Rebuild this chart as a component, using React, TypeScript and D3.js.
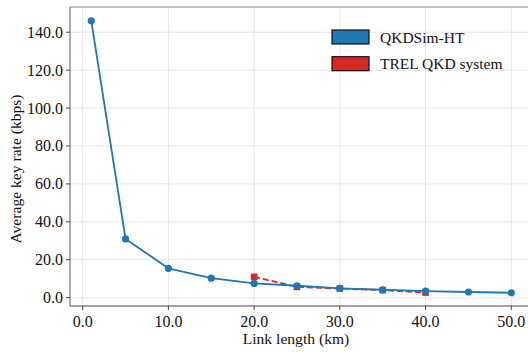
import React from "react";
import * as d3 from "d3";

const blueX = [1, 5, 10, 15, 20, 25, 30, 35, 40, 45, 50];
const blueY = [146, 31, 15.5, 10.3, 7.5, 6.3, 4.9, 4.2, 3.5, 3.0, 2.6];
const redX = [20, 25, 30, 35, 40];
const redY = [11, 5.7, 4.8, 4.0, 2.7];
const xTicks = [0, 10, 20, 30, 40, 50];
const yTicks = [0, 20, 40, 60, 80, 100, 120, 140];
const seriesNames = ["QKDSim-HT", "TREL QKD system"];
const colors = ["#1f77b4", "#d62728"];

const W = 528, H = 352;
const L = 70, B = 306, T = 7;
const FONT = "'Liberation Serif', 'Times New Roman', serif";

export default function App() {
  const x = d3.scaleLinear().domain([-1.48, 53]).range([L, L + 54.48 * 8.572]);
  const y = d3.scaleLinear().domain([-4.38, 153.3]).range([B, T]);
  const R = x(53);
  const blue = blueX.map((v, i) => [v, blueY[i]] as [number, number]);
  const red = redX.map((v, i) => [v, redY[i]] as [number, number]);
  const line = d3.line<[number, number]>().x(d => x(d[0])).y(d => y(d[1]));
  return (
    <svg width={W} height={H} style={{ position: "absolute", left: 0, top: 0, background: "#fff" }} fontFamily={FONT}>
      <rect x={0} y={0} width={W} height={H} fill="#fff" />
      {xTicks.map(t => (
        <line key={"gx" + t} x1={x(t)} x2={x(t)} y1={T} y2={B} stroke="#e6e6e6" strokeWidth={1} />
      ))}
      {yTicks.map(t => (
        <line key={"gy" + t} x1={L} x2={R} y1={y(t)} y2={y(t)} stroke="#e6e6e6" strokeWidth={1} />
      ))}
      <path d={line(red) || ""} fill="none" stroke={colors[1]} strokeWidth={1.8} strokeDasharray="6,3" />
      {red.map((d, i) => (
        <rect key={"r" + i} x={x(d[0]) - 3.3} y={y(d[1]) - 3.3} width={6.6} height={6.6} fill={colors[1]} />
      ))}
      <path d={line(blue) || ""} fill="none" stroke={colors[0]} strokeWidth={1.8} />
      {blue.map((d, i) => (
        <circle key={"b" + i} cx={x(d[0])} cy={y(d[1])} r={3.6} fill={colors[0]} />
      ))}
      <line x1={L} x2={R} y1={T} y2={T} stroke="#888" strokeWidth={1.2} />
      <line x1={L} x2={L} y1={T} y2={B} stroke="#777" strokeWidth={1.2} />
      <line x1={L} x2={R} y1={B} y2={B} stroke="#444" strokeWidth={1.2} />
      {xTicks.map(t => (
        <g key={"tx" + t}>
          <line x1={x(t)} x2={x(t)} y1={B} y2={B + 4} stroke="#444" />
          <text x={x(t)} y={B + 21} textAnchor="middle" fontSize={16} fill="#111">{t.toFixed(1)}</text>
        </g>
      ))}
      {yTicks.map(t => (
        <g key={"ty" + t}>
          <line x1={L - 4} x2={L} y1={y(t)} y2={y(t)} stroke="#444" />
          <text x={L - 7} y={y(t) + 5.5} textAnchor="end" fontSize={16} fill="#111">{t.toFixed(1)}</text>
        </g>
      ))}
      <text x={296} y={344} textAnchor="middle" fontSize={15.6} fill="#111">Link length (km)</text>
      <text transform={`translate(20.5, 169) rotate(-90)`} textAnchor="middle" fontSize={15.6} fill="#111">Average key rate (kbps)</text>
      {seriesNames.map((n, i) => (
        <g key={n}>
          <rect x={332} y={30 + i * 26.7} width={37} height={14} fill={colors[i]} stroke="#111" strokeWidth={1.2} />
          <text x={380} y={42.5 + i * 26.7} fontSize={15.5} fill="#111">{n}</text>
        </g>
      ))}
    </svg>
  );
}
